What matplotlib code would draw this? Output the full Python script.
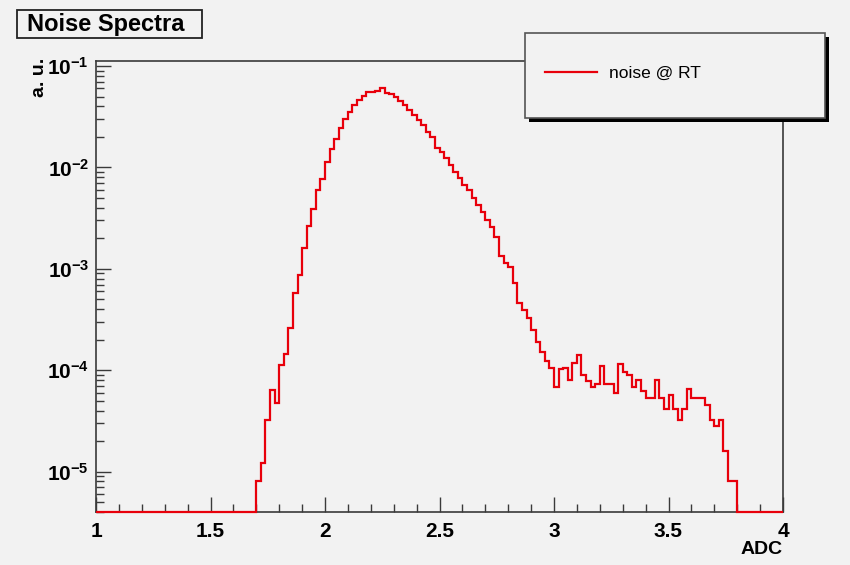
import numpy as np
import matplotlib.pyplot as plt
from matplotlib.patches import Rectangle
from matplotlib.lines import Line2D
from matplotlib.ticker import MultipleLocator, FixedLocator, FixedFormatter, FormatStrFormatter, LogLocator, NullFormatter

plt.rcParams['font.family'] = ['Liberation Sans', 'DejaVu Sans']
plt.rcParams['mathtext.fontset'] = 'custom'
plt.rcParams['mathtext.rm'] = 'Liberation Sans:bold'
plt.rcParams['mathtext.bf'] = 'Liberation Sans:bold'
plt.rcParams['mathtext.default'] = 'rm'

# histogram: 0.02 wide bins, filled from 1.70 to 3.80, empty elsewhere
x_lo, x_hi = 1.0, 4.0
bin_width = 0.02
first_filled = 1.70
noise_rt = [
    8.0e-6, 1.22e-5, 3.25e-5, 6.4e-5, 4.75e-5, 1.13e-4, 1.45e-4, 2.6e-4, 5.75e-4, 8.7e-4,
    1.6e-3, 2.67e-3, 3.9e-3, 6.0e-3, 7.6e-3, 1.14e-2, 1.51e-2, 1.90e-2, 2.43e-2, 2.98e-2,
    3.55e-2, 4.13e-2, 4.63e-2, 5.06e-2, 5.5e-2, 5.58e-2, 5.72e-2, 6.03e-2, 5.45e-2, 5.3e-2,
    4.9e-2, 4.52e-2, 4.13e-2, 3.69e-2, 3.29e-2, 2.94e-2, 2.62e-2, 2.25e-2, 2.01e-2, 1.55e-2,
    1.43e-2, 1.23e-2, 1.06e-2, 9.1e-3, 7.8e-3, 6.7e-3, 6.0e-3, 4.97e-3, 4.28e-3, 3.67e-3,
    3.04e-3, 2.61e-3, 2.08e-3, 1.34e-3, 1.14e-3, 1.05e-3, 7.2e-4, 4.59e-4, 3.95e-4, 3.27e-4,
    2.5e-4, 1.92e-4, 1.53e-4, 1.22e-4, 1.05e-4, 6.9e-5, 1.03e-4, 1.06e-4, 8.05e-5, 1.17e-4,
    1.42e-4, 9.0e-5, 7.8e-5, 6.9e-5, 7.3e-5, 1.09e-4, 7.3e-5, 7.3e-5, 5.95e-5, 1.16e-4,
    9.7e-5, 9.0e-5, 6.9e-5, 8.0e-5, 6.2e-5, 5.3e-5, 5.3e-5, 8.0e-5, 5.3e-5, 4.1e-5,
    5.7e-5, 4.1e-5, 3.25e-5, 4.1e-5, 6.5e-5, 5.3e-5, 5.3e-5, 5.3e-5, 4.5e-5, 3.25e-5,
    2.8e-5, 3.25e-5, 1.58e-5, 8.0e-6, 8.0e-6,
]
y_lo, y_hi = 4.0e-6, 0.112
y_ticks = [1e-5, 1e-4, 1e-3, 1e-2, 1e-1]
y_labels = [r'$10^{-5}$', r'$10^{-4}$', r'$10^{-3}$', r'$10^{-2}$', r'$10^{-1}$']

bg = '#f2f2f2'
red = '#e8000b'
frame = '#3a3a3a'

edges = np.round(np.arange(x_lo, x_hi + bin_width / 2, bin_width), 2)
counts = np.zeros(len(edges) - 1)
i0 = int(round((first_filled - x_lo) / bin_width))
counts[i0:i0 + len(noise_rt)] = noise_rt

fig = plt.figure(figsize=(8.5, 5.65), dpi=100, facecolor=bg)
ax = fig.add_axes([96 / 850, 1 - 512 / 565, 687 / 850, 451 / 565])
ax.set_facecolor(bg)

# empty bins sit on the bottom of the frame like ROOT draws them
ax.stairs(np.clip(counts, y_lo, None), edges, color=red, lw=1.6, baseline=None,
          zorder=3, clip_on=False)

ax.set_yscale('log')
ax.set_xlim(x_lo, x_hi)
ax.set_ylim(y_lo, y_hi)

ax.xaxis.set_major_locator(MultipleLocator(0.5))
ax.xaxis.set_minor_locator(MultipleLocator(0.1))
ax.xaxis.set_major_formatter(FormatStrFormatter('%g'))
ax.yaxis.set_major_locator(FixedLocator(y_ticks))
ax.yaxis.set_major_formatter(FixedFormatter(y_labels))
ax.yaxis.set_minor_locator(LogLocator(base=10, subs=np.arange(2, 10)))
ax.yaxis.set_minor_formatter(NullFormatter())

ax.tick_params(which='both', direction='in', color=frame, width=1.0,
               top=False, right=False)
ax.tick_params(axis='x', which='major', length=11, pad=7, labelsize=15)
ax.tick_params(axis='x', which='minor', length=5.5)
ax.tick_params(axis='y', which='major', length=11, pad=5, labelsize=15)
ax.tick_params(axis='y', which='minor', length=6)
for lab in ax.get_xticklabels():
    lab.set_fontweight('bold')

for s in ax.spines.values():
    s.set_color(frame)
    s.set_linewidth(1.2)

fig.text(40 / 850, 1 - 58 / 565, 'a. u.', rotation=90, ha='center', va='top',
         fontsize=14, fontweight='bold')
fig.text(783 / 850, 1 - 549 / 565, 'ADC', ha='right', va='center',
         fontsize=14, fontweight='bold')

# title box
fig.add_artist(Rectangle((17 / 850, 1 - 38 / 565), 185 / 850, 28 / 565,
                         transform=fig.transFigure, fc=bg, ec='#222222', lw=1.3))
fig.text(27 / 850, 1 - 24 / 565, 'Noise Spectra', ha='left', va='center',
         fontsize=17, fontweight='bold')

# legend box with ROOT-style shadow
fig.add_artist(Rectangle((529 / 850, 1 - 122 / 565), 300 / 850, 85 / 565,
                         transform=fig.transFigure, fc='black', ec='none'))
fig.add_artist(Rectangle((525 / 850, 1 - 118 / 565), 300 / 850, 85 / 565,
                         transform=fig.transFigure, fc=bg, ec='#555555', lw=1.2))
fig.legend(handles=[Line2D([], [], color=red, lw=1.6)], labels=['noise @ RT'],
           loc='center left', bbox_to_anchor=(529 / 850, 1 - 73 / 565),
           frameon=False, fontsize=12.5, handlelength=3.0, handletextpad=0.7)

fig.savefig('out.png', dpi=100, facecolor=bg)
